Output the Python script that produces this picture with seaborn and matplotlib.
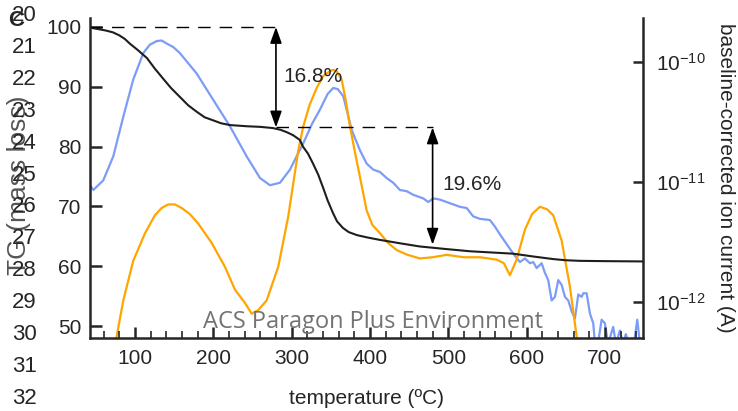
import numpy as np
import pandas as pd
import matplotlib
matplotlib.use("Agg")
import matplotlib.pyplot as plt
from matplotlib.ticker import MultipleLocator, NullLocator, FixedLocator
import seaborn as sns

# ---------------- data ----------------
tga_T = [42.6, 46.4, 55, 63, 71.9, 80, 87, 93.6, 104, 115.3, 125, 135.7, 146, 157.4, 168,
         179.1, 189, 199.6, 210, 221.3, 243, 260, 276, 286, 294, 302, 310.6, 314.5, 321,
         327.2, 334, 340, 346, 352.8, 358, 365.5, 373, 383.4, 397, 412.8, 440, 463.8, 495,
         527.7, 555, 582.6, 610, 633.6, 650, 668, 700, 748.5]
tga_mass = [100, 99.8, 99.6, 99.4, 99.1, 98.6, 98.0, 97.2, 96.1, 94.8, 93.1, 91.4, 89.8,
            88.3, 86.9, 85.8, 84.9, 84.4, 83.9, 83.6, 83.4, 83.3, 83.1, 82.8, 82.4, 81.9,
            81.1, 80.0, 78.8, 77.2, 75.3, 73.2, 71.0, 68.9, 67.5, 66.4, 65.7, 65.2, 64.8,
            64.4, 63.8, 63.3, 62.9, 62.5, 62.3, 62.1, 61.6, 61.2, 61.0, 60.9, 60.85, 60.8]

orange_T = [75.5, 76.6, 85.1, 97.8, 112.8, 125.5, 134, 142.5, 151, 159.6, 170, 180.8, 197.9,
            214.9, 227.7, 240.4, 249, 257.4, 268.1, 282.9, 295.7, 308.5, 314.9, 323, 332,
            340.4, 349, 353, 357.5, 363.9, 369, 374.5, 381, 387.2, 395.8, 403, 412.8, 423,
            434.1, 448, 463.8, 480, 497.9, 520, 540.4, 561.8, 571, 578.7, 587.3, 597.9, 607,
            617, 626, 634, 644.7, 655.3, 663.9, 665.5]
orange_log = [-12.4, -12.29, -11.99, -11.66, -11.43, -11.28, -11.22, -11.19, -11.19, -11.22,
              -11.27, -11.35, -11.51, -11.71, -11.90, -12.01, -12.10, -12.07, -11.99, -11.71,
              -11.29, -10.74, -10.54, -10.36, -10.22, -10.12, -10.08, -10.07, -10.08, -10.15,
              -10.32, -10.54, -10.76, -10.96, -11.24, -11.36, -11.43, -11.51, -11.57, -11.61,
              -11.64, -11.63, -11.61, -11.63, -11.63, -11.65, -11.68, -11.78, -11.65, -11.40,
              -11.27, -11.21, -11.23, -11.28, -11.49, -11.875, -12.29, -12.4]

blue_T = [42.6, 46.8, 59.5, 72.3, 85.1, 97.8, 110.6, 119, 127.7, 134, 140.5, 149, 157.4, 178.8,
          200, 221.3, 242.6, 259.6, 272.3, 285.1, 297.9, 314.9, 326, 336.2, 346, 353.2, 359,
          366, 376.7, 387.3, 395.8, 404.2, 412.8, 421.3, 429.8, 438.3, 446.9, 455.3, 468.1,
          474.5, 480.8, 489.4, 502.1, 514.9, 523.5, 531.9, 540.4, 553.2, 559.6, 566, 583,
          591.5, 597.9, 604.3, 608.5, 612.8, 619.2, 623.4, 627.6, 632, 636.2, 640.4, 644.7,
          649, 653.2, 657.5, 661.7, 666, 670.3, 672.3, 676.7, 680.9, 685.1, 687.3, 691, 695.8,
          700, 704, 710.6, 714, 719.2, 723, 726.7, 730.6, 737, 741.3, 744.7, 748.5]
blue_log = [-11.03, -11.07, -10.99, -10.79, -10.46, -10.15, -9.93, -9.86, -9.83, -9.825,
            -9.85, -9.88, -9.93, -10.10, -10.32, -10.54, -10.79, -10.97, -11.03, -11.01,
            -10.90, -10.68, -10.52, -10.40, -10.27, -10.22, -10.23, -10.29, -10.57, -10.74,
            -10.85, -10.90, -10.92, -10.97, -11.01, -11.07, -11.08, -11.11, -11.14, -11.17,
            -11.14, -11.15, -11.18, -11.21, -11.22, -11.29, -11.31, -11.32, -11.375, -11.44,
            -11.60, -11.67, -11.64, -11.68, -11.67, -11.72, -11.68, -11.76, -11.82, -11.99,
            -11.96, -11.82, -11.86, -11.96, -11.99, -12.08, -12.14, -11.94, -11.96, -11.93,
            -11.93, -12.10, -12.18, -12.35, -12.35, -12.15, -12.18, -12.35, -12.21, -12.35,
            -12.24, -12.35, -12.27, -12.35, -12.35, -12.15, -12.35, -12.35]

step_temps = [280, 480]
step_levels = [100, 83.2, 63.6]
step_labels = ["16.8%", "19.6%"]
step_label_T = [289, 493]
step_label_y = [91.8, 73.6]

x_ticks = [100, 200, 300, 400, 500, 600, 700]
left_ticks = [50, 60, 70, 80, 90, 100]
right_ticks = [1e-12, 1e-11, 1e-10]
line_numbers = list(range(20, 33))

# ---------------- style ----------------
sns.set_style("ticks")
plt.rcParams['font.family'] = ['Liberation Sans', 'DejaVu Sans']
plt.rcParams['mathtext.fontset'] = 'custom'
plt.rcParams['mathtext.rm'] = 'Liberation Sans'
plt.rcParams['mathtext.it'] = 'Liberation Sans:italic'
plt.rcParams['mathtext.bf'] = 'Liberation Sans:bold'

W, H = 738, 411
fig = plt.figure(figsize=(W / 100, H / 100), dpi=100)
ax = fig.add_axes([90 / W, 1 - 337.7 / H, (643.3 - 90) / W, (337.7 - 18.3) / H])
ax2 = ax.twinx()

tga = pd.DataFrame({"T": tga_T, "mass": tga_mass})
ora = pd.DataFrame({"T": orange_T, "I": 10.0 ** np.array(orange_log)})
blu = pd.DataFrame({"T": blue_T, "I": 10.0 ** np.array(blue_log)})

sns.lineplot(data=blu, x="T", y="I", ax=ax2, color="#7b9cf7", lw=1.6, sort=False)
sns.lineplot(data=ora, x="T", y="I", ax=ax2, color="#ffa500", lw=1.6, sort=False)
sns.lineplot(data=tga, x="T", y="mass", ax=ax, color="#1e1e1e", lw=1.5, sort=False)

# put the mass axis (black curve) on top
ax.set_zorder(ax2.get_zorder() + 1)
ax.patch.set_visible(False)

ax.set_xlim(42.6, 749)
ax.set_ylim(48.05, 101.45)
ax2.set_yscale('log')
ax2.set_ylim(10 ** -12.3, 10 ** -9.64)

# dashed level lines and arrows
ax.plot([ax.get_xlim()[0], step_temps[0]], [step_levels[0]] * 2, color='k', lw=1.0,
        ls=(0, (9, 6.5)))
ax.plot([step_temps[0], step_temps[1]], [step_levels[1]] * 2, color='k', lw=1.0,
        ls=(0, (9, 6.5)))
for i in range(2):
    ax.annotate('', xy=(step_temps[i], step_levels[i]), xytext=(step_temps[i], step_levels[i + 1]),
                arrowprops=dict(arrowstyle='<|-|>,head_length=0.7,head_width=0.25',
                                color='k', lw=1.2, mutation_scale=14, shrinkA=0, shrinkB=0))
    ax.text(step_label_T[i], step_label_y[i], step_labels[i], fontsize=15, ha='left', va='center')

# spines and ticks
for a in (ax, ax2):
    a.spines['top'].set_visible(False)
    for s in a.spines.values():
        s.set_linewidth(1.8)
ax.spines['right'].set_visible(False)
ax2.spines['left'].set_visible(False)
ax2.spines['bottom'].set_visible(False)

ax.xaxis.set_major_locator(FixedLocator(x_ticks))
ax.xaxis.set_minor_locator(MultipleLocator(20))
ax.yaxis.set_major_locator(FixedLocator(left_ticks))
ax.yaxis.set_minor_locator(NullLocator())
ax.tick_params(axis='x', which='major', direction='in', length=8, width=1.8, labelsize=15, pad=8)
ax.tick_params(axis='x', which='minor', direction='in', length=5, width=1.2)
ax.tick_params(axis='y', which='major', direction='in', length=8.5, width=1.8, labelsize=15, pad=6)
ax2.yaxis.set_major_locator(FixedLocator(right_ticks))
ax2.yaxis.set_minor_locator(NullLocator())
ax2.tick_params(axis='y', which='major', direction='in', length=7.5, width=1.8, labelsize=15, pad=9)

ax.set_xlabel('')
ax.set_ylabel('')
ax2.set_ylabel('')

fig.text(366.7 / W, 1 - 398 / H, 'temperature (ºC)', fontsize=15, ha='center', va='center')
fig.text(725 / W, 1 - 177.5 / H, 'baseline-corrected ion current (A)', fontsize=15,
         rotation=270, ha='center', va='center')
fig.text(19 / W, 1 - 185 / H, 'TG (mass loss)', fontsize=19, rotation=90, ha='center',
         va='center', color='#555555')

# manuscript line numbers and panel letter
for i, n in enumerate(line_numbers):
    fig.text(12 / W, 1 - (15.5 + 31.9 * i) / H, str(n), fontsize=16, ha='left', va='center')
fig.text(8 / W, 1 - 20.5 / H, 'C', fontsize=16, fontweight='bold', ha='left', va='center')

# watermark
fig.text(372.5 / W, 1 - 328.3 / H, 'ACS Paragon Plus Environment', fontsize=17,
         family=['Open Sans', 'DejaVu Sans'], color='#737373', ha='center', va='baseline')

fig.savefig('out.png', dpi=100)
